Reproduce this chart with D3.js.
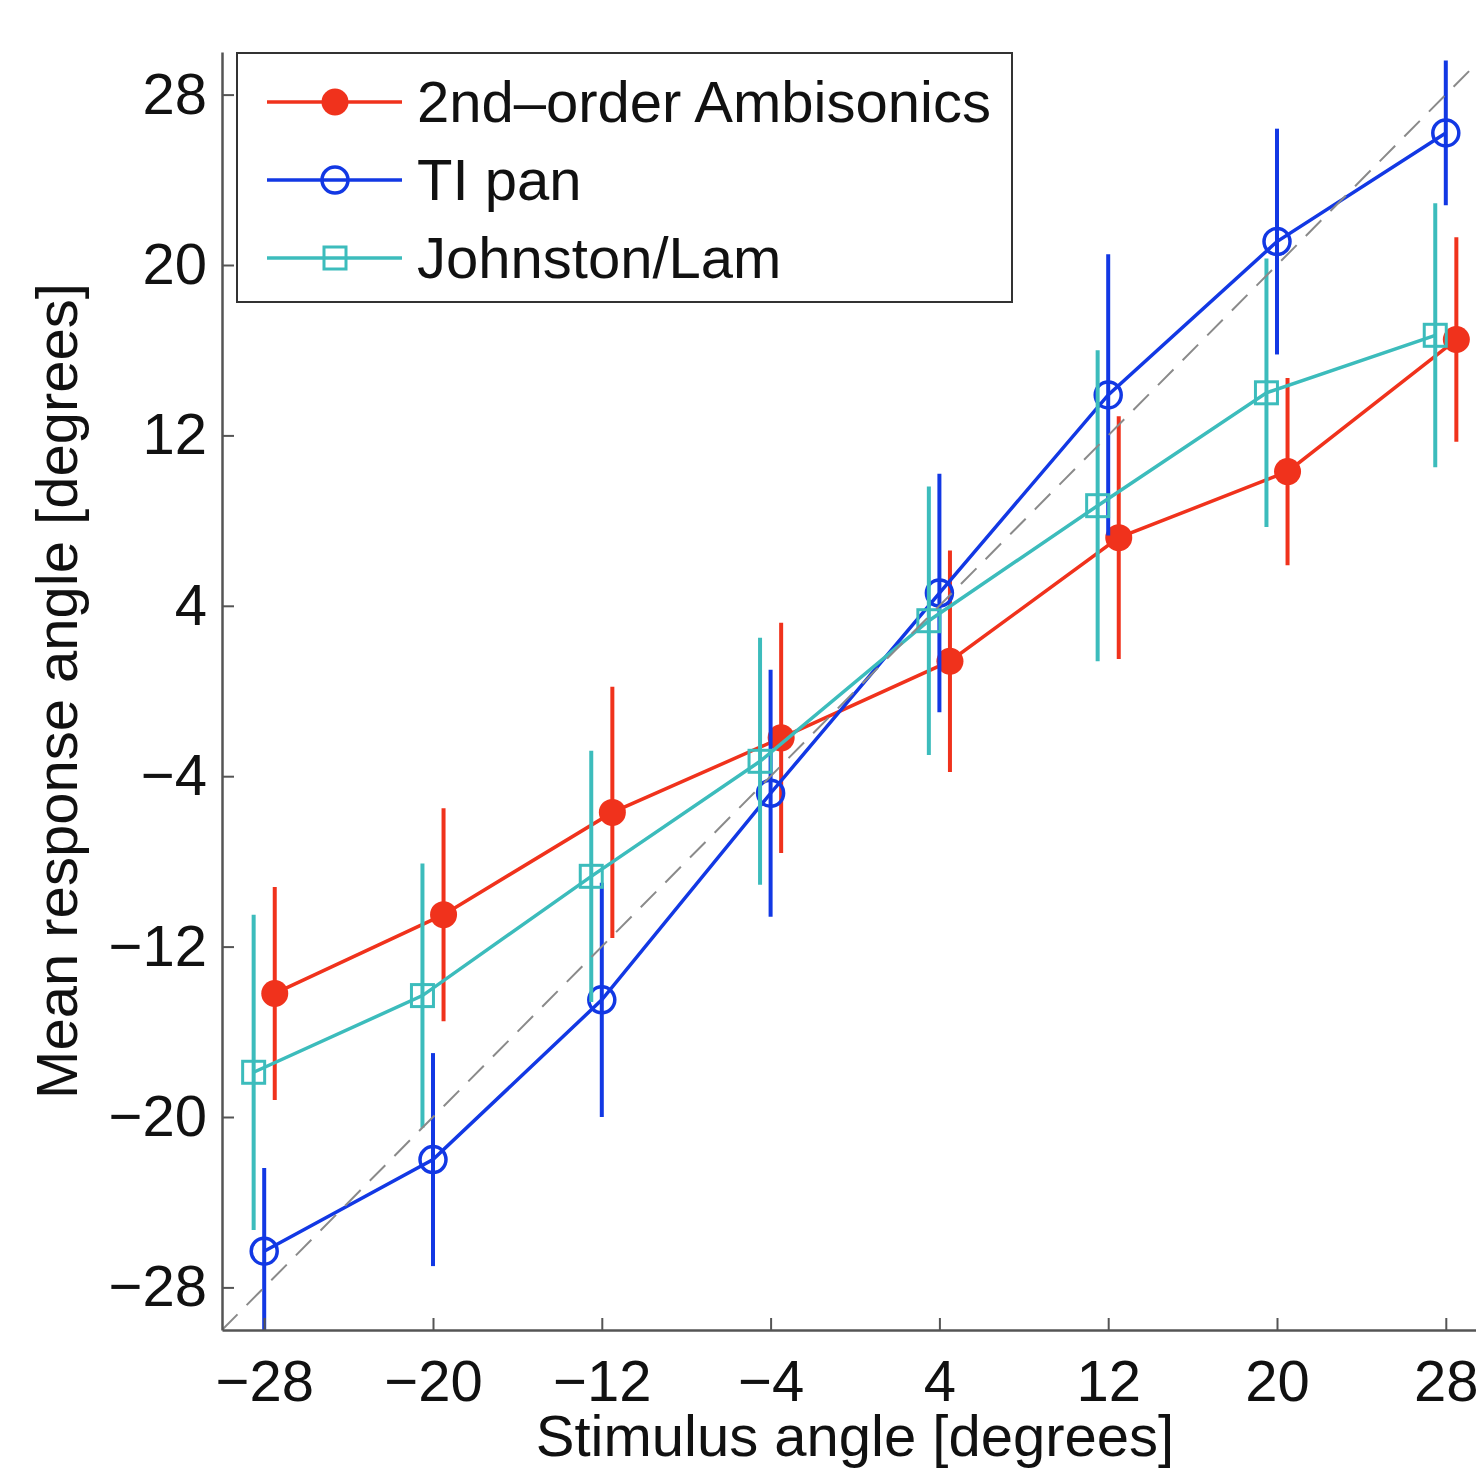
<!DOCTYPE html>
<html>
<head>
<meta charset="utf-8">
<script src="https://cdn.jsdelivr.net/npm/d3@7"></script>
<style>
  body { margin: 0; background: #fff; }
  svg { display: block; }
  text { font-family: "Liberation Sans", Arial, sans-serif; fill: #111; }
</style>
</head>
<body>
<div id="chart"></div>
<script>
// stimulus angles (x) and the three series
let stimulus = [-28, -20, -12, -4, 4, 12, 20, 28];

let ambisonicsMean = [-14.2, -10.5, -5.7, -2.2, 1.4, 7.2, 10.3, 16.5];
let ambisonicsErr  = [5.0, 5.0, 5.9, 5.4, 5.2, 5.7, 4.4, 4.8];

let tipanMean = [-26.3, -22.0, -14.5, -4.8, 4.6, 13.9, 21.1, 26.2];
let tipanErr  = [3.9, 5.0, 5.5, 5.8, 5.6, 6.6, 5.3, 3.4];

let johnstonMean = [-17.9, -14.3, -8.7, -3.3, 3.3, 8.7, 14.0, 16.7];
let johnstonErr  = [7.4, 6.2, 5.9, 5.8, 6.3, 7.3, 6.3, 6.2];

let seriesNames = ['2nd\u2013order Ambisonics', 'TI pan', 'Johnston/Lam'];
let yTicks = [-28, -20, -12, -4, 4, 12, 20, 28];

let buildChart = () =>
{
	let width = 1476;
	let height = 1471;
	let left = 222, right = 1488, top = 52, bottom = 1330;
	let fontSize = 58;

	let svg = d3.select('#chart')
	  .append('svg')
	  .attr('width', width)
	  .attr('height', height);

	let x = d3.scaleLinear().domain([-30, 30]).range([left, right]);
	let y = d3.scaleLinear().domain([-30, 30]).range([bottom, top]);

	svg.append('clipPath').attr('id', 'plotclip')
	   .append('rect')
	   .attr('x', left).attr('y', top)
	   .attr('width', right - left).attr('height', bottom - top);

	let plot = svg.append('g').attr('clip-path', 'url(#plotclip)');

	let series = [
		{ name: seriesNames[0], mean: ambisonicsMean, err: ambisonicsErr, color: '#f0321c', dodge: 0.5, marker: 'dot' },
		{ name: seriesNames[1], mean: tipanMean, err: tipanErr, color: '#1238e4', dodge: 0, marker: 'circle' },
		{ name: seriesNames[2], mean: johnstonMean, err: johnstonErr, color: '#3cbcbc', dodge: -0.5, marker: 'square' }
	];

	let line = d3.line().x(d => x(d.x)).y(d => y(d.y));

	let drawMarker = (g, type, color, cx, cy) =>
	{
		if (type === 'dot')
			g.append('circle').attr('cx', cx).attr('cy', cy).attr('r', 13.5).style('fill', color);
		else if (type === 'circle')
			g.append('circle').attr('cx', cx).attr('cy', cy).attr('r', 13)
			 .style('fill', 'none').style('stroke', color).style('stroke-width', 3.5);
		else
			g.append('rect').attr('x', cx - 11).attr('y', cy - 11).attr('width', 22).attr('height', 22)
			 .style('fill', 'none').style('stroke', color).style('stroke-width', 3);
	};

	series.forEach(s => {
		let pts = stimulus.map((st, i) => ({ x: st + s.dodge, y: s.mean[i], e: s.err[i] }));
		let g = plot.append('g');

		g.selectAll('line.err')
		 .data(pts)
		 .enter()
		 .append('line')
		 .attr('x1', d => x(d.x)).attr('x2', d => x(d.x))
		 .attr('y1', d => y(d.y + d.e)).attr('y2', d => y(d.y - d.e))
		 .style('stroke', s.color)
		 .style('stroke-width', 4);

		g.append('path')
		 .datum(pts)
		 .attr('d', line)
		 .style('fill', 'none')
		 .style('stroke', s.color)
		 .style('stroke-width', 3.5);

		pts.forEach(d => drawMarker(g, s.marker, s.color, x(d.x), y(d.y)));
	});

	// identity line
	plot.append('line')
	    .attr('x1', x(-30)).attr('y1', y(-30))
	    .attr('x2', x(30)).attr('y2', y(30))
	    .style('stroke', '#8a8a8a')
	    .style('stroke-width', 2)
	    .style('stroke-dasharray', '22,13');

	// axes
	let xAxis = svg.append('g')
	  .attr('transform', 'translate(0,' + bottom + ')')
	  .call(d3.axisBottom(x).tickValues(stimulus).tickSizeInner(-12).tickSizeOuter(0).tickPadding(30));

	let yAxis = svg.append('g')
	  .attr('transform', 'translate(' + left + ',0)')
	  .call(d3.axisLeft(y).tickValues(yTicks).tickSizeInner(-12).tickSizeOuter(0).tickPadding(15));

	[xAxis, yAxis].forEach(a => {
		a.select('.domain').style('stroke', '#555').style('stroke-width', 2.5);
		a.selectAll('.tick line').style('stroke', '#555').style('stroke-width', 2);
		a.selectAll('.tick text')
		 .style('font-size', fontSize + 'px')
		 .style('font-family', '"Liberation Sans", Arial, sans-serif')
		 .style('fill', '#111');
	});

	svg.append('text')
	   .attr('x', (left + right) / 2)
	   .attr('y', 1456)
	   .attr('text-anchor', 'middle')
	   .style('font-size', fontSize + 'px')
	   .text('Stimulus angle [degrees]');

	svg.append('text')
	   .attr('transform', 'translate(77,' + (top + bottom) / 2 + ') rotate(-90)')
	   .attr('text-anchor', 'middle')
	   .style('font-size', fontSize + 'px')
	   .text('Mean response angle [degrees]');

	// legend
	let legend = svg.append('g');
	legend.append('rect')
	      .attr('x', 237).attr('y', 53)
	      .attr('width', 775).attr('height', 249)
	      .style('fill', '#fff')
	      .style('stroke', '#333')
	      .style('stroke-width', 2);

	series.forEach((s, i) => {
		let ly = 102 + i * 78;
		legend.append('line')
		      .attr('x1', 267).attr('x2', 402)
		      .attr('y1', ly).attr('y2', ly)
		      .style('stroke', s.color)
		      .style('stroke-width', 3.5);
		drawMarker(legend, s.marker, s.color, 335, ly);
		legend.append('text')
		      .attr('x', 417)
		      .attr('y', ly)
		      .attr('dy', '0.35em')
		      .style('font-size', fontSize + 'px')
		      .text(s.name);
	});
}

buildChart();
</script>
</body>
</html>
